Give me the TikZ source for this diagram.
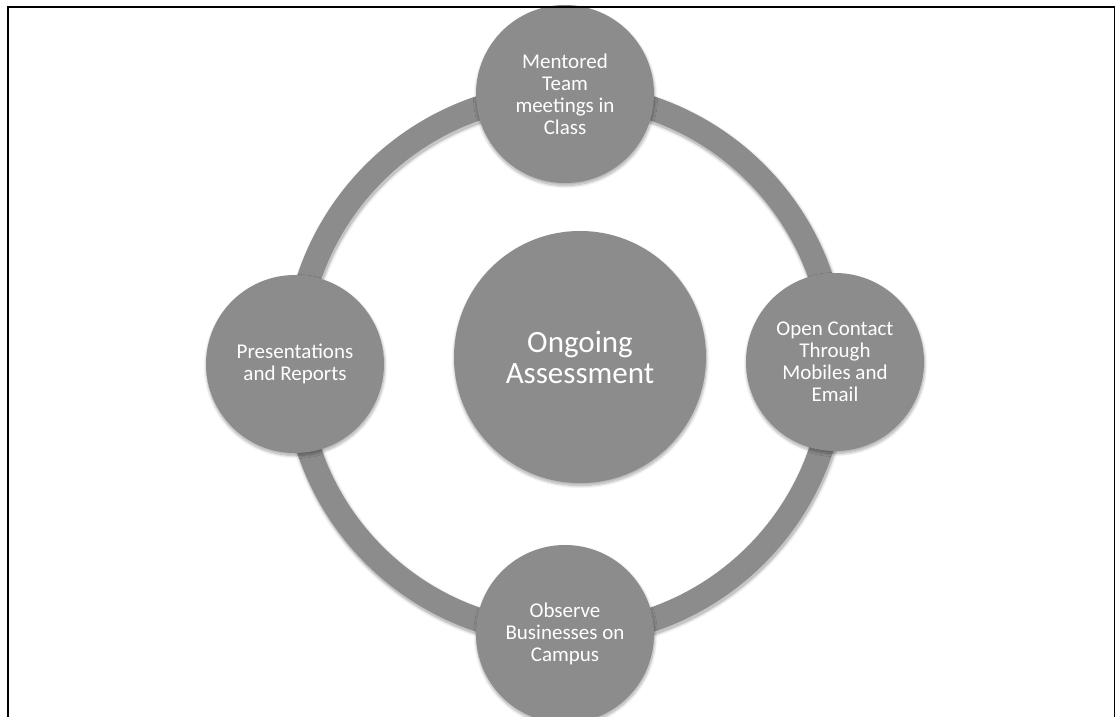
\documentclass[tikz,border=0pt]{standalone}
\usepackage{fontspec}
\setmainfont{Carlito}
\usetikzlibrary{calc,shadows.blur}
\definecolor{discgray}{HTML}{8C8C8C}
\begin{document}
\begin{tikzpicture}[x=1bp,y=-1bp,
  soft/.style={blur shadow={shadow xshift=0.5bp, shadow yshift=-2.5bp,
      shadow blur radius=3bp, shadow blur steps=10, shadow opacity=35}},
  disc/.style={circle, fill=discgray, text=white, align=center, inner sep=0pt,
      minimum size=178bp, font=\fontsize{21bp}{22bp}\selectfont, soft},
  hub/.style={disc, minimum size=252bp, font=\fontsize{31bp}{31bp}\selectfont},
  band/.style={draw=discgray, line width=24bp},
  frame/.style={draw=black, line width=1.6bp}
]
\useasboundingbox (0,0) rectangle (1116,717);
\clip (0,0) rectangle (1116,717);

% ring that links the four outer discs
\coordinate (c) at (565,364);
\foreach \w/\o in {30/0.03, 28/0.05, 26/0.07, 25/0.09}
  \draw[line width=\w bp, black, opacity=\o] ($(c)+(1,2.5)$) circle[radius=270bp];
\draw[band] (c) circle[radius=270bp];

% outer discs
\node[disc] (mentor) at (565,94)  {Mentored\\Team\\meetings in\\Class};
\node[disc] (present) at (295,364) {Presentations\\and Reports};
\node[disc] (contact) at (835,362) {Open Contact\\Through\\Mobiles and\\Email};
\node[disc] (observe) at (565,634) {Observe\\Businesses on\\Campus};

% central disc
\node[hub] (assess) at (580,357) {Ongoing\\Assessment};

% frame around the slide (bottom edge runs off the page)
\draw[frame] (8,730) -- (8,7) -- (1114.5,7) -- (1114.5,730);
\end{tikzpicture}
\end{document}
